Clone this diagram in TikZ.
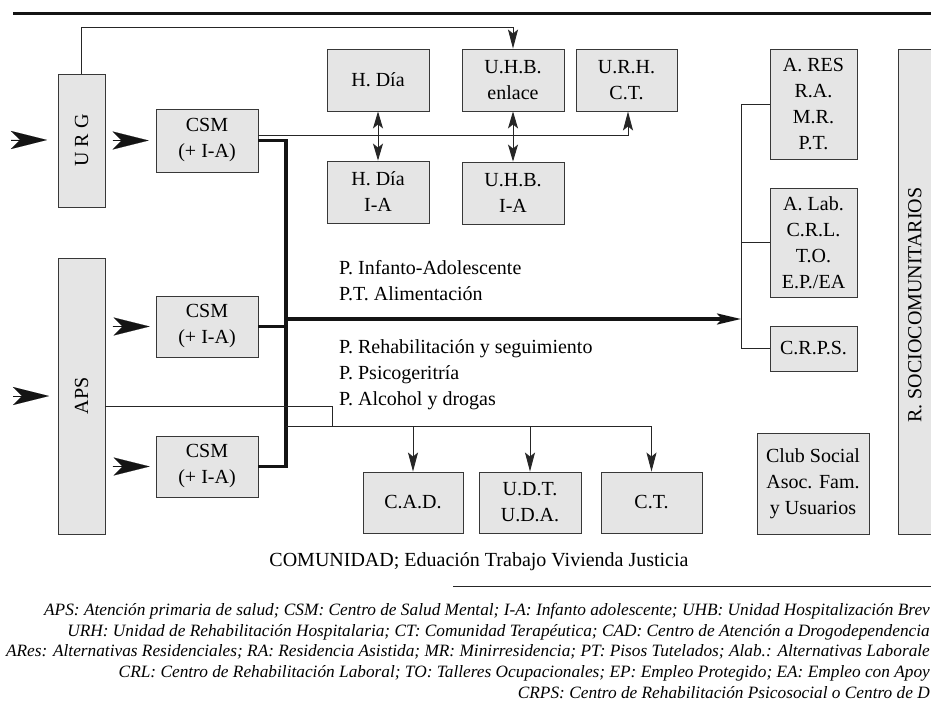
\documentclass[tikz,border=0pt]{standalone}
\usepackage{fontspec}
\setmainfont{Liberation Serif}
\usetikzlibrary{arrows.meta}
\begin{document}
\begin{tikzpicture}[x=1pt,y=-1pt,
  box/.style={draw=black!78, fill=black!10, line width=0.9pt, inner sep=0pt, align=center,
    font=\fontsize{20}{26}\selectfont},
  thinline/.style={draw=black!85, line width=0.9pt},
  thickline/.style={draw=black!92, line width=3.2pt},
  sm/.style={-{Stealth[length=19pt,width=10pt,inset=4pt]}},
  smboth/.style={{Stealth[length=17pt,width=10pt,inset=4pt]}-{Stealth[length=17pt,width=10pt,inset=4pt]}},
  big/.style={-{Stealth[length=36pt,width=18pt,inset=9pt]}, line width=0.1pt, draw=black!92, fill=black!92},
  lbl/.style={font=\fontsize{20}{26}\selectfont, align=left, inner sep=0pt},
  foot/.style={font=\fontsize{17.3}{21}\selectfont\itshape, anchor=base east, inner sep=0pt},
]
\useasboundingbox (0,0) rectangle (931,714);
\fill[white] (0,0) rectangle (931,714);
\clip (0,0) rectangle (931,714);

% top rule
\coordinate (r1) at (13,14);
\coordinate (r2) at (931,14);
\draw[draw=black!92, line width=3pt] (r1) -- (r2);

% boxes
\node[box, minimum width=47pt, minimum height=133pt] (urg) at (81.5,140.5) {};
\node[rotate=90, font=\fontsize{20}{26}\selectfont] (urgt) at (urg.center) {U R G};
\node[box, minimum width=47pt, minimum height=276pt] (aps) at (81.5,396) {};
\node[rotate=90, font=\fontsize{20}{26}\selectfont] (apst) at (aps.center) {APS};

\node[box, minimum width=102pt, minimum height=63pt] (csm1) at (207,140.5) {CSM\\(+ I-A)};
\node[box, minimum width=102pt, minimum height=61pt] (csm2) at (207,326.5) {CSM\\(+ I-A)};
\node[box, minimum width=102pt, minimum height=61pt] (csm3) at (207,466.5) {CSM\\(+ I-A)};

\node[box, minimum width=102pt, minimum height=62pt] (hdia) at (378,80) {H. Día};
\node[box, minimum width=102pt, minimum height=62pt] (hdiaia) at (378,192) {H. Día\\I-A};
\node[box, minimum width=102pt, minimum height=62pt] (uhbe) at (513,80) {U.H.B.\\enlace};
\node[box, minimum width=102pt, minimum height=62pt] (uhbia) at (513,193) {U.H.B.\\I-A};
\node[box, minimum width=101pt, minimum height=62pt] (urh) at (626.5,80) {U.R.H.\\C.T.};

\node[box, minimum width=87pt, minimum height=110pt] (ares) at (813.5,104) {A. RES\\R.A.\\M.R.\\P.T.};
\node[box, minimum width=87pt, minimum height=109pt] (alab) at (813.5,242.5) {A. Lab.\\C.R.L.\\T.O.\\E.P./EA};
\node[box, minimum width=87pt, minimum height=45pt] (crps) at (813.5,348.5) {C.R.P.S.};
\node[box, minimum width=112pt, minimum height=101pt] (club) at (813,483.5) {Club Social\\Asoc. Fam.\\y Usuarios};

\node[box, minimum width=66pt, minimum height=485pt] (rsoc) at (931,291.5) {};
\node[rotate=90, font=\fontsize{20}{26}\selectfont] (rsoct) at (915,305) {R. SOCIOCOMUNITARIOS};

\node[box, minimum width=100pt, minimum height=61pt] (cad) at (413,502.5) {C.A.D.};
\node[box, minimum width=102pt, minimum height=61pt] (udt) at (530,502.5) {U.D.T.\\U.D.A.};
\node[box, minimum width=101pt, minimum height=61pt] (ct) at (651.5,502.5) {C.T.};

% entry arrowheads
\coordinate (e1a) at (11,140);
\coordinate (e1b) at (47,140);
\draw[big] (e1a) -- (e1b);
\coordinate (e2a) at (13,396);
\coordinate (e2b) at (49,396);
\draw[big] (e2a) -- (e2b);
\draw[big] ([xshift=-43pt]csm1.west) -- ([xshift=-7pt]csm1.west);
\draw[big] ([xshift=-43pt]csm2.west) -- ([xshift=-6pt]csm2.west);
\draw[big] ([xshift=-43pt]csm3.west) -- ([xshift=-6pt]csm3.west);

% URG to UHB enlace
\coordinate (topy) at (0,27);
\draw[thinline, sm] (urg.north) |- (uhbe.north |- topy) -- (uhbe.north);

% CSM1 thin line to URH
\draw[thinline, sm] ([yshift=5.5pt]csm1.east) -| ([xshift=1.5pt]urh.south);

% double arrows
\draw[thinline, smboth] (hdia.south) -- (hdiaia.north);
\draw[thinline, smboth] (uhbe.south) -- (uhbia.north);

% thick spine
\coordinate (sx) at (286,0);
\draw[thickline] (csm1.east) -- (csm1.east -| sx) -- (csm3.east -| sx) -- (csm3.east);
\draw[thickline] (csm2.east) -- (csm2.east -| sx);
\coordinate (bx) at (741,0);
\coordinate (my) at (0,319);
\draw[thickline, -{Stealth[length=24pt,width=11pt,inset=5pt]}] (sx |- my) -- (bx |- my);

% bracket
\draw[thinline] (ares.west) -- (ares.west -| bx) -- (crps.west -| bx) -- (crps.west);
\draw[thinline] (alab.west) -- (alab.west -| bx);

% APS and drugs line
\coordinate (dy) at (0,426);
\coordinate (dj) at (332,426);
\draw[thinline] ([yshift=-10pt]aps.east) -| (dj);
\draw[thinline, sm] (sx |- dy) -| (ct.north);
\draw[thinline, sm] (cad.north |- dy) -- (cad.north);
\draw[thinline, sm] (udt.north |- dy) -- (udt.north);

% labels
\node[lbl, anchor=north west] (pia) at (339,260.5) {P. Infanto-Adolescente\\P.T. Alimentación};
\node[lbl, anchor=north west] (prs) at (339,339) {P. Rehabilitación y seguimiento\\P. Psicogeritría\\P. Alcohol y drogas};
\node[lbl, anchor=center] (com) at (479,562) {COMUNIDAD; Eduación Trabajo Vivienda Justicia};

% rule above footnotes
\coordinate (f1) at (453,586);
\coordinate (f2) at (931,586);
\draw[thinline] (f1) -- (f2);

% footnotes
\node[foot] (fn1) at (930,615) {APS: Atención primaria de salud; CSM: Centro de Salud Mental; I-A: Infanto adolescente; UHB: Unidad Hospitalización Brev};
\node[foot] (fn2) at (930,636) {URH: Unidad de Rehabilitación Hospitalaria; CT: Comunidad Terapéutica; CAD: Centro de Atención a Drogodependencia};
\node[foot] (fn3) at (930,656.5) {ARes: Alternativas Residenciales; RA: Residencia Asistida; MR: Minirresidencia; PT: Pisos Tutelados; Alab.: Alternativas Laborale};
\node[foot] (fn4) at (930,677) {CRL: Centro de Rehabilitación Laboral; TO: Talleres Ocupacionales; EP: Empleo Protegido; EA: Empleo con Apoy};
\node[foot] (fn5) at (930,698) {CRPS: Centro de Rehabilitación Psicosocial o Centro de D};
\end{tikzpicture}
\end{document}
